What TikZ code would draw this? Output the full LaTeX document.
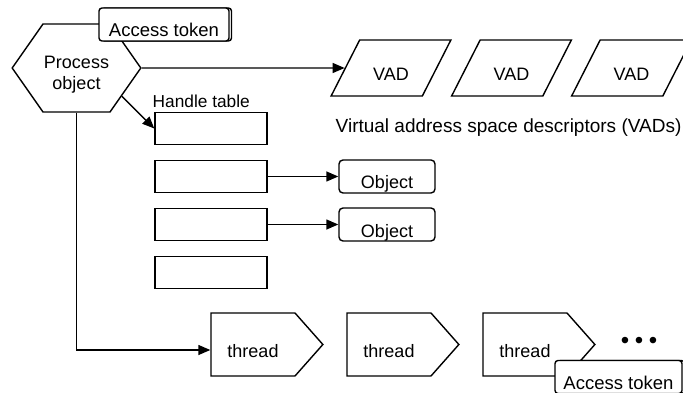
\documentclass[tikz,border=0pt]{standalone}
\usepackage{fontspec}
\setmainfont{Liberation Sans}
\usetikzlibrary{shapes.geometric,shapes.symbols,shadows,arrows.meta}

\begin{document}
\begin{tikzpicture}[x=1pt,y=-1pt,line width=1.4pt,
	font=\fontsize{18}{21}\selectfont]
\useasboundingbox (0,0) rectangle (683,393);
	\tikzset{LowText/.style =
	{text height = 25pt,
		text depth = 0pt,
		inner sep = 0pt}}
	\tikzset{ProcStyle/.style =
	{draw,
		shape = signal,
		signal to = west and east,
		signal pointer angle = 110,
		inner sep = 0pt,
		text width = 67pt,
		align = center,
		minimum height = 88pt,
		text height = 22pt,
		text depth = 20pt}}
	\tikzset{TokenStyle/.style =
	{draw, LowText,
		fill = white,
		rounded corners = 3pt,
		font = \fontsize{18.5}{21}\selectfont,
		minimum width = 130pt,
		minimum height = 33pt,
		copy shadow = {draw, fill = white, shadow xshift = 2.5pt, shadow yshift = 0pt}}}
	\tikzset{VadStyle/.style =
	{draw, LowText,
		shape = trapezium,
		trapezium left angle = 63,
		trapezium right angle = 117,
		inner xsep = 13.5pt,
		inner ysep = 15.5pt}}
	\tikzset{HandleStyle/.style =
	{draw,
		inner sep = 0pt,
		minimum width = 112pt,
		minimum height = 32pt}}
	\tikzset{ObjectStyle/.style =
	{draw, LowText,
		rounded corners = 4pt,
		minimum width = 96pt,
		minimum height = 33pt}}
	\tikzset{ThreadStyle/.style =
	{draw, LowText,
		shape = signal,
		signal to = east,
		signal pointer angle = 97,
		text width = 84pt,
		align = center,
		minimum height = 63pt}}
	\tikzset{ArrowStyle/.style =
	{-{Triangle[length=12pt,width=10pt]}}}

% process object and its token
\node[ProcStyle] (proc) at (76.5,68) {Process\\object};
\node[TokenStyle] (tokA) at (164,24.5) {Access token};

% address space descriptors
\node[VadStyle] (v1) at (391,68) {VAD};
\node[VadStyle] (v2) at (511.5,68) {VAD};
\node[VadStyle] (v3) at (631.5,68) {VAD};
\node[anchor=base west, inner sep=0pt, font=\fontsize{19}{21}\selectfont] (vadtxt)
	at (335,133) {Virtual address space descriptors (VADs)};

% handle table
\node[anchor=base west, inner sep=0pt, font=\fontsize{17.3}{21}\selectfont] (htxt)
	at (152,108) {Handle table};
\node[HandleStyle] (h1) at (211,128.5) {};
\node[HandleStyle] (h2) at (211,176.5) {};
\node[HandleStyle] (h3) at (211,224.5) {};
\node[HandleStyle] (h4) at (211,272.5) {};
\node[ObjectStyle] (o1) at (387,176.5) {Object};
\node[ObjectStyle] (o2) at (387,224.5) {Object};

% threads
\node[ThreadStyle] (t1) at (253,344.5) {thread};
\node[ThreadStyle] (t2) at (389,344.5) {thread};
\node[ThreadStyle] (t3) at (525,344.5) {thread};
\node[inner sep=0pt, font=\fontsize{24}{24}\selectfont] (dots) at (639,343)
	{•\hspace{5.6pt}•\hspace{5.6pt}•};
\node[TokenStyle, minimum width = 127pt] (tokB) at (618.5,377) {Access token};

\draw[ArrowStyle] (proc) -- (v1);
\draw[ArrowStyle] (proc.-32) -- (h1.west);
\draw[ArrowStyle] (proc.south) |- ([yshift=-5.5pt]t1.west);
\draw[ArrowStyle] (h2) -- (o1);
\draw[ArrowStyle] (h3) -- (o2);

\end{tikzpicture}
\end{document}
